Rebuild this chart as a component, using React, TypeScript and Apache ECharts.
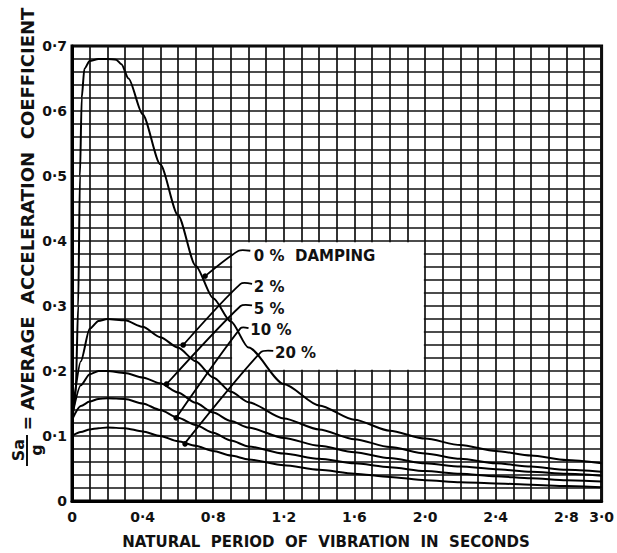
import React, { useEffect, useRef } from "react";
import * as echarts from "echarts";

// ---- data ----
const PERIODS_0 = [0, 0.02, 0.035, 0.045, 0.055, 0.07, 0.1, 0.15, 0.2, 0.25, 0.28, 0.32, 0.4, 0.5, 0.6, 0.7, 0.8, 0.9, 1.0, 1.2, 1.4, 1.6, 1.8, 2.0, 2.2, 2.4, 2.6, 2.8, 3.0];
const DAMPING_0 = [0.12, 0.16, 0.3, 0.5, 0.62, 0.665, 0.677, 0.68, 0.68, 0.679, 0.672, 0.65, 0.595, 0.518, 0.44, 0.362, 0.312, 0.276, 0.236, 0.18, 0.147, 0.125, 0.108, 0.096, 0.086, 0.077, 0.07, 0.063, 0.058];

const PERIODS = [0, 0.05, 0.1, 0.15, 0.2, 0.3, 0.4, 0.5, 0.6, 0.7, 0.8, 0.9, 1.0, 1.2, 1.4, 1.6, 1.8, 2.0, 2.2, 2.4, 2.6, 2.8, 3.0];
const DAMPING_2 = [0.13, 0.215, 0.265, 0.277, 0.28, 0.278, 0.268, 0.252, 0.236, 0.215, 0.19, 0.168, 0.152, 0.127, 0.11, 0.095, 0.083, 0.073, 0.065, 0.058, 0.053, 0.048, 0.045];
const DAMPING_5 = [0.13, 0.178, 0.195, 0.2, 0.2, 0.197, 0.19, 0.181, 0.167, 0.151, 0.136, 0.123, 0.113, 0.097, 0.085, 0.075, 0.066, 0.058, 0.053, 0.049, 0.045, 0.042, 0.039];
const DAMPING_10 = [0.125, 0.146, 0.153, 0.157, 0.158, 0.157, 0.15, 0.14, 0.128, 0.117, 0.105, 0.093, 0.084, 0.073, 0.065, 0.058, 0.052, 0.046, 0.042, 0.038, 0.035, 0.032, 0.03];
const DAMPING_20 = [0.1, 0.106, 0.11, 0.112, 0.113, 0.112, 0.107, 0.1, 0.092, 0.085, 0.077, 0.07, 0.064, 0.055, 0.048, 0.042, 0.037, 0.032, 0.029, 0.027, 0.025, 0.023, 0.021];

const X_TICK_LABELS = [0, 0.4, 0.8, 1.2, 1.6, 2.0, 2.4, 2.8, 3.0];
const Y_TICK_LABELS = [0, 0.1, 0.2, 0.3, 0.4, 0.5, 0.6, 0.7];

const X_TITLE = "NATURAL  PERIOD  OF  VIBRATION  IN  SECONDS";
const Y_TITLE = "AVERAGE  ACCELERATION  COEFFICIENT";

const CURVE_LABELS = ["0 %  DAMPING", "2 %", "5 %", "10 %", "20 %"];
const CURVE_LABEL_AT = [[1.03, 0.377], [1.03, 0.329], [1.03, 0.295], [1.01, 0.263], [1.15, 0.228]];
const LEADERS = [
  [[1.01, 0.385], [0.944, 0.385], [0.754, 0.346]],
  [[1.02, 0.334], [0.955, 0.334], [0.63, 0.24]],
  [[1.02, 0.301], [0.955, 0.3], [0.536, 0.18]],
  [[1.0, 0.266], [0.955, 0.266], [0.59, 0.128]],
  [[1.14, 0.231], [1.07, 0.229], [0.64, 0.089]],
];
const BLANK_BOX = [[0.9, 0.4], [2.0, 0.2]];

const fmt = (v: number) => (v === 0 ? "0" : v.toFixed(1).replace(".", "\u00B7"));
const near = (v: number, list: number[]) => list.some((t) => Math.abs(t - v) < 1e-6);
const zip = (xs: number[], ys: number[]) => xs.map((x, i) => [x, ys[i]]);

const FONT = "'DejaVu Sans', sans-serif";
const INK = "#111";

export default function App() {
  const ref = useRef<HTMLDivElement>(null);
  useEffect(() => {
    if (!ref.current) return;
    const chart = echarts.init(ref.current, null, { renderer: "svg" });
    const curve = (data: number[][]) => ({
      type: "line",
      data,
      showSymbol: false,
      smooth: 0.25,
      smoothMonotone: "x",
      z: 3,
      lineStyle: { color: "#000", width: 2 },
      silent: true,
    });
    chart.setOption({
      animation: false,
      backgroundColor: "#fff",
      grid: { left: 72, right: 8, top: 46, bottom: 52, show: true, borderColor: "#000", borderWidth: 3, backgroundColor: "transparent" },
      xAxis: {
        type: "value",
        min: 0,
        max: 3,
        interval: 0.1,
        axisLine: { show: true, lineStyle: { color: "#000", width: 3 } },
        axisTick: { show: false },
        splitLine: { show: true, lineStyle: { color: INK, width: 1.7 } },
        axisLabel: {
          margin: 9,
          color: INK,
          fontSize: 14,
          fontWeight: "bold",
          fontFamily: FONT,
          showMinLabel: true,
          showMaxLabel: true,
          formatter: (v: number) => (near(v, X_TICK_LABELS) ? fmt(v) : ""),
        },
      },
      yAxis: {
        type: "value",
        min: 0,
        max: 0.7,
        interval: 0.02,
        axisLine: { show: true, lineStyle: { color: "#000", width: 3 } },
        axisTick: { show: false },
        splitLine: { show: true, lineStyle: { color: INK, width: 1.7 } },
        axisLabel: {
          margin: 5,
          color: INK,
          fontSize: 14,
          fontWeight: "bold",
          fontFamily: FONT,
          formatter: (v: number) => (near(v, Y_TICK_LABELS) ? fmt(v) : ""),
        },
      },
      series: [
        curve(zip(PERIODS_0, DAMPING_0)),
        curve(zip(PERIODS, DAMPING_2)),
        curve(zip(PERIODS, DAMPING_5)),
        curve(zip(PERIODS, DAMPING_10)),
        curve(zip(PERIODS, DAMPING_20)),
      ],
    });

    const px = (p: number[]) => chart.convertToPixel({ gridIndex: 0 }, p) as number[];
    const b1 = px(BLANK_BOX[0]);
    const b2 = px(BLANK_BOX[1]);
    const graphics: any[] = [];
    const txt = (text: string, x: number, y: number, size: number, align: string, rot = 0) => ({
      type: "text", z: 6, silent: true, x, y, rotation: rot,
      style: { text, fill: INK, fontSize: size, fontWeight: "bold", fontFamily: FONT, align, verticalAlign: "middle", textAlign: align, textVerticalAlign: "middle" },
    });
    graphics.push({
      type: "rect",
      z: 1,
      silent: true,
      shape: { x: b1[0] + 1.2, y: b1[1] + 1.2, width: b2[0] - b1[0] - 2.4, height: b2[1] - b1[1] - 2.4 },
      style: { fill: "#fff" },
    });
    LEADERS.forEach((pts) => {
      const p = pts.map(px);
      graphics.push({ type: "polyline", z: 5, silent: true, shape: { points: p, smooth: 0.25 }, style: { stroke: "#000", lineWidth: 1.8, fill: null } });
      const end = p[p.length - 1];
      graphics.push({ type: "circle", z: 5, silent: true, shape: { cx: end[0], cy: end[1], r: 2.8 }, style: { fill: "#000" } });
    });
    CURVE_LABELS.forEach((t, i) => {
      const p = px(CURVE_LABEL_AT[i]);
      graphics.push(txt(t, p[0], p[1], 15, "left"));
    });
    // axis titles
    graphics.push(txt(X_TITLE, 326, 542, 15, "center"));
    graphics.push(txt(Y_TITLE, 27, 209, 18, "center", Math.PI / 2));
    graphics.push(txt("=", 28, 423, 17, "center", Math.PI / 2));
    graphics.push(txt("Sa", 18, 450, 16, "center", Math.PI / 2));
    graphics.push({ type: "line", z: 6, silent: true, shape: { x1: 27, y1: 435, x2: 27, y2: 466 }, style: { stroke: INK, lineWidth: 2 } });
    graphics.push(txt("g", 36, 450, 16, "center", Math.PI / 2));
    chart.setOption({ graphic: graphics });

    return () => chart.dispose();
  }, []);
  return <div ref={ref} style={{ position: "fixed", left: 0, top: 0, width: 617, height: 553 }} />;
}
